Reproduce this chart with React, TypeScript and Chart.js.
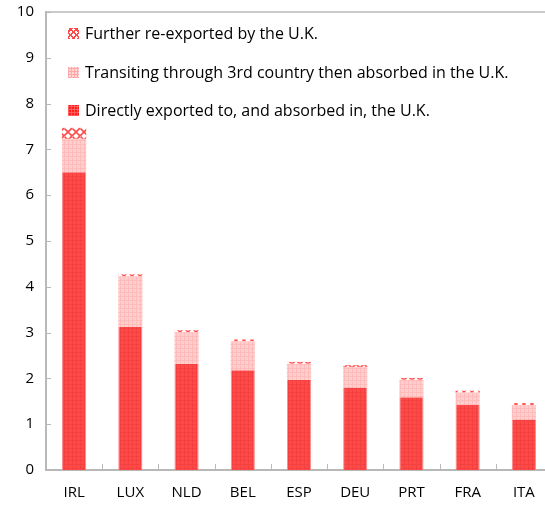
import React, { useEffect, useRef } from "react";
import { Chart, registerables } from "chart.js";

Chart.register(...registerables);

const categories = ["IRL", "LUX", "NLD", "BEL", "ESP", "DEU", "PRT", "FRA", "ITA"];
const directValues = [6.5, 3.12, 2.32, 2.18, 1.97, 1.8, 1.59, 1.42, 1.1];
const transitValues = [0.73, 1.11, 0.69, 0.63, 0.35, 0.45, 0.38, 0.27, 0.32];
const reexportValues = [0.24, 0.04, 0.04, 0.04, 0.04, 0.04, 0.04, 0.04, 0.04];
const seriesLabels = [
  "Directly exported to, and absorbed in, the U.K.",
  "Transiting through 3rd country then absorbed in the U.K.",
  "Further re-exported by the U.K.",
];
const yMin = 0;
const yMax = 10;
const yStep = 1;

const FONT = "'Open Sans', 'Noto Sans', sans-serif";
const AXIS = "#b8b8b8";

function makePattern(kind: string): CanvasPattern | string {
  const c = document.createElement("canvas");
  const s = kind === "re" ? 8 : 4;
  c.width = s;
  c.height = s;
  const g = c.getContext("2d");
  if (!g) return "#ff4848";
  if (kind === "direct") {
    g.fillStyle = "#ff4a4a";
    g.fillRect(0, 0, s, s);
    g.fillStyle = "#f54040";
    g.fillRect(0, 0, s, 1);
    g.fillRect(0, 0, 1, s);
  } else if (kind === "transit") {
    g.fillStyle = "#ffcfcf";
    g.fillRect(0, 0, s, s);
    g.fillStyle = "#ffbaba";
    g.fillRect(0, 0, s, 1);
    g.fillRect(0, 0, 1, s);
  } else {
    g.fillStyle = "#ffffff";
    g.fillRect(0, 0, s, s);
    g.strokeStyle = "#ff4a4a";
    g.lineWidth = 1.6;
    g.beginPath();
    g.moveTo(0, 0);
    g.lineTo(s, s);
    g.moveTo(s, 0);
    g.lineTo(0, s);
    g.stroke();
    g.fillStyle = "#ff9a9a";
    g.fillRect(0, 0, 1, 1);
  }
  const p = g.createPattern(c, "repeat");
  return p || "#ff4848";
}

const framePlugin = {
  id: "frame",
  afterDraw(chart: any) {
    const { ctx, chartArea, scales } = chart;
    const y = scales.y;
    ctx.save();
    ctx.strokeStyle = AXIS;
    ctx.lineWidth = 1.5;
    ctx.beginPath();
    ctx.moveTo(chartArea.left, chartArea.top);
    ctx.lineTo(chartArea.right, chartArea.top);
    ctx.stroke();
    ctx.lineWidth = 1;
    for (let v = yMin; v <= yMax; v += yStep) {
      const py = Math.round(y.getPixelForValue(v)) + 0.5;
      ctx.beginPath();
      ctx.moveTo(chartArea.left, py);
      ctx.lineTo(chartArea.left + 5, py);
      ctx.stroke();
    }
    const n = categories.length;
    const w = (chartArea.right - chartArea.left) / n;
    for (let i = 1; i < n; i++) {
      const px = Math.round(chartArea.left + i * w) + 0.5;
      ctx.beginPath();
      ctx.moveTo(px, chartArea.bottom);
      ctx.lineTo(px, chartArea.bottom - 6);
      ctx.stroke();
    }
    ctx.restore();
  },
};

const legendMarkers: Record<string, React.CSSProperties> = {
  direct: {
    backgroundColor: "#ff2020",
    backgroundImage:
      "repeating-linear-gradient(0deg, rgba(255,110,110,0.7) 0 1px, transparent 1px 3px), repeating-linear-gradient(90deg, rgba(255,110,110,0.7) 0 1px, transparent 1px 3px)",
  },
  transit: {
    backgroundColor: "#ffd6d6",
    backgroundImage:
      "repeating-linear-gradient(0deg, #ffa8a8 0 1px, transparent 1px 3px), repeating-linear-gradient(90deg, #ffa8a8 0 1px, transparent 1px 3px)",
  },
  re: {
    backgroundColor: "#ffffff",
    backgroundImage:
      "repeating-linear-gradient(45deg, #ff4a4a 0 1.5px, transparent 1.5px 4px), repeating-linear-gradient(-45deg, #ff4a4a 0 1.5px, transparent 1.5px 4px)",
  },
};

export default function App() {
  const ref = useRef<HTMLCanvasElement | null>(null);

  useEffect(() => {
    if (!ref.current) return;
    const chart = new Chart(ref.current, {
      type: "bar",
      data: {
        labels: categories,
        datasets: [
          {
            label: seriesLabels[0],
            data: directValues,
            backgroundColor: makePattern("direct") as any,
            borderColor: "#ff8a8a",
            borderWidth: { left: 1, right: 1, top: 0, bottom: 0 } as any,
            borderSkipped: false,
          },
          {
            label: seriesLabels[1],
            data: transitValues,
            backgroundColor: makePattern("transit") as any,
            borderWidth: 0,
          },
          {
            label: seriesLabels[2],
            data: reexportValues,
            backgroundColor: makePattern("re") as any,
            borderWidth: 0,
          },
        ],
      },
      options: {
        animation: false,
        responsive: false,
        maintainAspectRatio: false,
        devicePixelRatio: 1,
        layout: { padding: { top: 12, right: 0, left: 0, bottom: 0 } },
        plugins: { legend: { display: false }, tooltip: { enabled: false } },
        datasets: { bar: { categoryPercentage: 1, barPercentage: 0.43 } } as any,
        scales: {
          x: {
            stacked: true,
            grid: { display: false, drawTicks: false },
            border: { display: true, color: AXIS, width: 2 },
            ticks: {
              color: "#000",
              font: { family: FONT, size: 15 },
              padding: 14,
              maxRotation: 0,
            },
            afterFit(scale: any) {
              scale.height = 38;
              scale.paddingLeft = 0;
              scale.paddingRight = 0;
            },
          },
          y: {
            stacked: true,
            min: yMin,
            max: yMax,
            grid: { display: false, drawTicks: false },
            border: { display: true, color: AXIS, width: 2 },
            ticks: {
              stepSize: yStep,
              color: "#000",
              font: { family: FONT, size: 15 },
              padding: 12,
            },
            afterFit(scale: any) {
              scale.width = 46;
              scale.paddingTop = 0;
              scale.paddingBottom = 0;
            },
          },
        },
      },
      plugins: [framePlugin],
    });
    return () => chart.destroy();
  }, []);

  const rows = [
    { key: "re", label: seriesLabels[2], y: 33 },
    { key: "transit", label: seriesLabels[1], y: 72 },
    { key: "direct", label: seriesLabels[0], y: 110 },
  ];

  return (
    <div
      style={{
        position: "fixed",
        left: 0,
        top: 0,
        width: 545,
        height: 508,
        overflow: "hidden",
        background: "#fff",
      }}
    >
      <canvas ref={ref} width={552} height={508} style={{ display: "block" }} />
      {rows.map((r) => (
        <div
          key={r.key}
          style={{
            position: "absolute",
            left: 68,
            top: r.y - 12,
            height: 24,
            display: "flex",
            alignItems: "center",
            fontFamily: FONT,
            fontSize: 16,
            color: "#000",
            whiteSpace: "nowrap",
          }}
        >
          <span
            style={{
              display: "inline-block",
              width: 11,
              height: 11,
              marginRight: 6,
              ...legendMarkers[r.key],
            }}
          />
          <span>{r.label}</span>
        </div>
      ))}
    </div>
  );
}
